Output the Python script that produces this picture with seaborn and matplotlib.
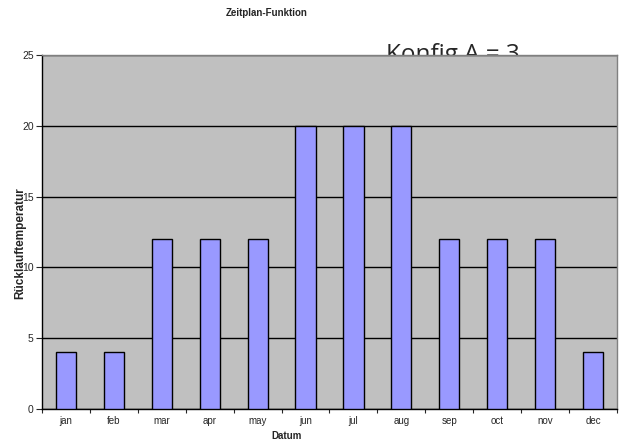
import matplotlib
matplotlib.use("Agg")
import matplotlib.pyplot as plt
import seaborn as sns
import pandas as pd
from matplotlib.ticker import FixedLocator

# data
months = ['jan', 'feb', 'mar', 'apr', 'may', 'jun', 'jul', 'aug', 'sep', 'oct', 'nov', 'dec']
temps = [4, 4, 12, 12, 12, 20, 20, 20, 12, 12, 12, 4]
y_ticks = [0, 5, 10, 15, 20, 25]

df = pd.DataFrame({'Datum': months, 'temp': temps})

sns.set_style('white')
plt.rcParams['font.family'] = ['Liberation Sans', 'DejaVu Sans']

fig = plt.figure(figsize=(6.27, 4.43), dpi=100)
ax = fig.add_axes([0.067, 0.0767, 0.917, 0.7991])
ax.set_facecolor('#C0C0C0')

sns.barplot(data=df, x='Datum', y='temp', ax=ax, color='#9999FF',
            edgecolor='black', linewidth=1, width=0.42, saturation=1, zorder=3)

ax.set_ylim(0, 25)
ax.set_xlim(-0.5, len(months) - 0.5)
ax.set_yticks(y_ticks)
ax.yaxis.grid(True, color='black', linewidth=1, zorder=1)
ax.set_axisbelow(True)

# ticks
ax.tick_params(axis='y', labelsize=7.5, length=4, width=0.8, direction='out', left=True, pad=2)
ax.tick_params(axis='x', which='major', labelsize=7, length=0, pad=5)
ax.xaxis.set_minor_locator(FixedLocator([i - 0.5 for i in range(len(months) + 1)]))
ax.tick_params(axis='x', which='minor', length=3, width=0.8, direction='out', bottom=True)

for s in ['top', 'right']:
    ax.spines[s].set_color('#808080')
    ax.spines[s].set_linewidth(1)
for s in ['left', 'bottom']:
    ax.spines[s].set_color('black')
    ax.spines[s].set_linewidth(1)

ax.set_xlabel('')
ax.set_ylabel('Rücklauftemperatur', fontsize=8.5, fontweight='bold')
ax.yaxis.set_label_coords(-0.027, 0.47)

# title and x label sit left of the figure centre in the reference
fig.text(0.426, 0.97, 'Zeitplan-Funktion', ha='center', va='center', fontsize=7, fontweight='bold')
fig.text(0.457, 0.005, 'Datum', ha='center', va='bottom', fontsize=7, fontweight='bold')
fig.text(0.723, 0.862, 'Konfig A = 3', ha='center', va='baseline', fontsize=17.5,
         family=['Open Sans', 'DejaVu Sans'], zorder=-1)

fig.savefig('out.png', dpi=100)
